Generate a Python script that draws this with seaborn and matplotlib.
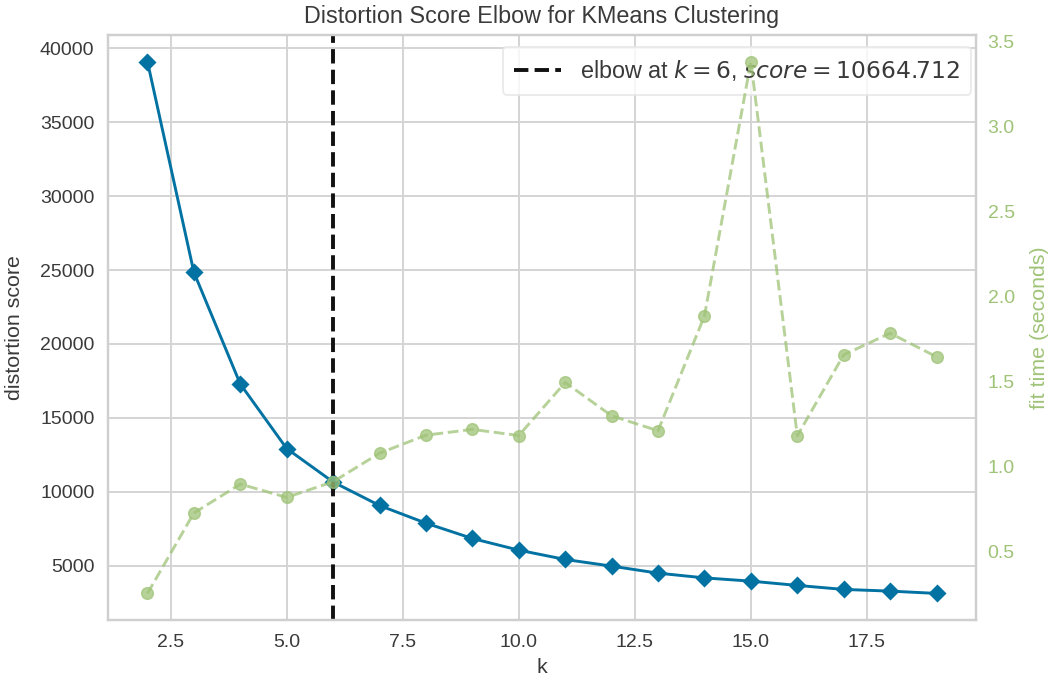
import matplotlib
matplotlib.use("Agg")
import matplotlib.pyplot as plt
import pandas as pd
import seaborn as sns

# ---- data ----
k_values = [2, 3, 4, 5, 6, 7, 8, 9, 10, 11, 12, 13, 14, 15, 16, 17, 18, 19]
distortion = [39095, 24850, 17290, 12925, 10664.712, 9075, 7880, 6845, 6055,
              5425, 4975, 4500, 4180, 3960, 3670, 3400, 3285, 3130]
fit_time = [0.255, 0.728, 0.898, 0.820, 0.912, 1.080, 1.186, 1.220, 1.184,
            1.496, 1.300, 1.212, 1.888, 3.384, 1.182, 1.659, 1.786, 1.647]
elbow_k = 6
elbow_score = 10664.712

title = "Distortion Score Elbow for KMeans Clustering"
x_label = "k"
y_label = "distortion score"
y2_label = "fit time (seconds)"

df = pd.DataFrame({"k": k_values, "distortion": distortion, "fit_time": fit_time})

BLUE = "#0272a2"
GREEN = "#9fc377"
GRID = "#d4d4d4"
TEXT = "#3a3a3a"

sns.set_theme(style="whitegrid", rc={
    "axes.edgecolor": "#cfcfcf",
    "axes.linewidth": 1.25,
    "grid.color": GRID,
    "grid.linewidth": 1.0,
    "xtick.color": TEXT,
    "ytick.color": TEXT,
    "axes.labelcolor": TEXT,
    "text.color": TEXT,
})
plt.rcParams["font.family"] = ["Liberation Sans", "DejaVu Sans"]

DPI = 140
fig = plt.figure(figsize=(1051 / DPI, 683 / DPI), dpi=DPI)
ax = fig.add_axes([108 / 1051, 1 - 620 / 683, (976 - 108) / 1051, (620 - 35) / 683])

sns.lineplot(data=df, x="k", y="distortion", ax=ax, color=BLUE, marker="D",
             markersize=6, markeredgecolor=BLUE, markeredgewidth=0.75,
             linewidth=1.5, estimator=None)

ax.axvline(elbow_k, color="#111111", linestyle="--", linewidth=2.0,
           label="elbow at $k={}$, $score={:0.3f}$".format(elbow_k, elbow_score))

ax.set_title(title, fontsize=12, color=TEXT, pad=6)
ax.set_xlabel(x_label, fontsize=11, labelpad=4)
ax.set_ylabel(y_label, fontsize=11, labelpad=8)
ax.tick_params(axis="both", labelsize=10, length=0, pad=7)
ax.set_xticks([2.5, 5.0, 7.5, 10.0, 12.5, 15.0, 17.5])
ax.set_xticklabels(["2.5", "5.0", "7.5", "10.0", "12.5", "15.0", "17.5"])
ax.set_yticks([5000, 10000, 15000, 20000, 25000, 30000, 35000, 40000])

leg = ax.legend(loc="upper right", bbox_to_anchor=(1.008, 1.0), fontsize=12,
                frameon=True, framealpha=0.8, edgecolor="#e6e6e6",
                facecolor="white", borderpad=0.5, handlelength=2.0)

ax2 = ax.twinx()
sns.lineplot(data=df, x="k", y="fit_time", ax=ax2, color=GREEN, marker="o",
             markersize=6, markeredgecolor=GREEN, markeredgewidth=0.75,
             linestyle="--", linewidth=1.5, alpha=0.75, estimator=None)
ax2.grid(False)
ax2.set_ylabel(y2_label, color=GREEN, fontsize=11, labelpad=8)
ax2.tick_params(axis="y", labelsize=10, length=0, pad=6, colors=GREEN)
ax2.set_yticks([0.5, 1.0, 1.5, 2.0, 2.5, 3.0, 3.5])
for sp in ax2.spines.values():
    sp.set_visible(False)

fig.savefig("out.png", dpi=DPI)
